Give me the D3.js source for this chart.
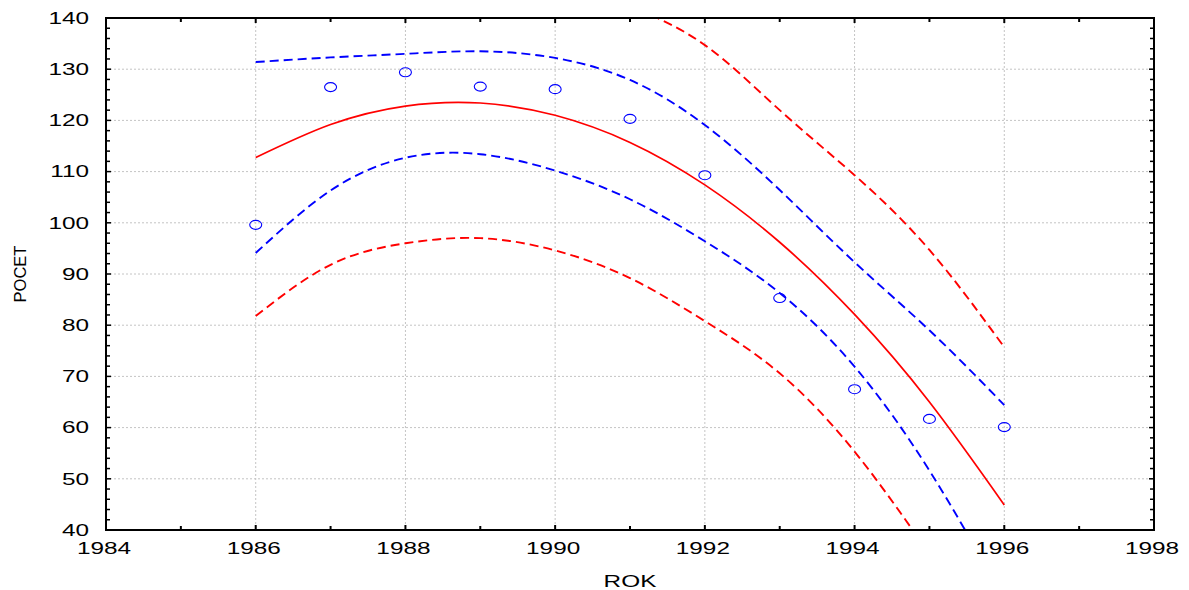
<!DOCTYPE html>
<html>
<head>
<meta charset="utf-8">
<script src="https://cdn.jsdelivr.net/npm/d3@7"></script>
<style>
  body { margin: 0; background: #fff; }
  text { font-family: "Liberation Sans", Arial, sans-serif; fill: #000; }
</style>
</head>
<body>
<svg id="chart" width="1189" height="590"></svg>
<script>
// observed values
const years = [1986, 1987, 1988, 1989, 1990, 1991, 1992, 1993, 1994, 1995, 1996];
const pocet = [99.6, 126.5, 129.4, 126.6, 126.1, 120.3, 109.3, 85.3, 67.5, 61.7, 60.1];

// fitted curve and bands, read at each year
const fit = [112.75, 119.2, 122.8, 123.4, 121.0, 115.7, 107.4, 96.2, 82.1, 65.0, 44.9];
const confUpper = [131.4, 132.3, 133.0, 133.5, 132.2, 127.9, 119.1, 106.4, 92.3, 79.0, 64.4];
const confLower = [94.1, 106.3, 112.7, 113.4, 110.2, 104.6, 96.4, 86.3, 71.9, 51.6, 26.5];
const predUpper = [143.7, 146.8, 149.6, 149.8, 147.4, 142.3, 134.7, 122.0, 109.3, 94.7, 75.7];
const predLower = [81.8, 91.8, 96.0, 97.0, 94.6, 89.2, 80.8, 70.6, 55.3, 35.3, 14.1];

const xTicks = [1984, 1986, 1988, 1990, 1992, 1994, 1996, 1998];
const yTicks = [40, 50, 60, 70, 80, 90, 100, 110, 120, 130, 140];

const svg = d3.select('#chart');

// plot box
const boxLeft = 106, boxRight = 1154, boxTop = 18, boxBottom = 530;
// the original picture is stretched sideways, so is its horizontal text
const stretch = 1.45;

const x = d3.scaleLinear().domain([1984, 1998]).range([boxLeft, boxRight]);
const y = d3.scaleLinear().domain([40, 140]).range([boxBottom, boxTop]);

// grid
const grid = svg.append('g')
  .attr('stroke', '#c4c4c4')
  .attr('stroke-width', 1)
  .attr('stroke-dasharray', '2,2');

grid.selectAll('.vg')
  .data(xTicks.slice(1, -1))
  .enter().append('line')
  .attr('x1', d => x(d)).attr('x2', d => x(d))
  .attr('y1', boxTop).attr('y2', boxBottom);

grid.selectAll('.hg')
  .data(yTicks.slice(1, -1))
  .enter().append('line')
  .attr('x1', boxLeft).attr('x2', boxRight)
  .attr('y1', d => y(d)).attr('y2', d => y(d));

// clip for the curves
svg.append('clipPath').attr('id', 'clip')
  .append('rect')
  .attr('x', boxLeft).attr('y', boxTop)
  .attr('width', boxRight - boxLeft).attr('height', boxBottom - boxTop);

const plot = svg.append('g').attr('clip-path', 'url(#clip)');

const line = d3.line()
  .x((d, i) => x(years[i]))
  .y(d => y(d))
  .curve(d3.curveNatural);

const series = [
  { values: predUpper, color: '#ff0000', dash: '9,5' },
  { values: predLower, color: '#ff0000', dash: '9,5' },
  { values: confUpper, color: '#0000ff', dash: '9,5' },
  { values: confLower, color: '#0000ff', dash: '9,5' },
  { values: fit, color: '#ff0000', dash: null }
];

series.forEach(s => {
  plot.append('path')
    .attr('d', line(s.values))
    .attr('fill', 'none')
    .attr('stroke', s.color)
    .attr('stroke-width', s.dash ? 1.9 : 1.7)
    .attr('stroke-dasharray', s.dash);
});

// points
plot.selectAll('.pt')
  .data(pocet)
  .enter().append('ellipse')
  .attr('cx', (d, i) => x(years[i]))
  .attr('cy', d => y(d))
  .attr('rx', 6)
  .attr('ry', 4.5)
  .attr('fill', 'none')
  .attr('stroke', '#0000ff')
  .attr('stroke-width', 1.1);

// axes: inward ticks on all four sides
const axes = svg.append('g').attr('stroke', '#000');

const xMinor = d3.range(1985, 1998, 1);
const yMinor = d3.range(42, 140, 2);

axes.selectAll('.xt')
  .data(xMinor)
  .enter().append('g')
  .each(function (d) {
    const len = d % 2 === 0 ? 5 : 4;
    d3.select(this).append('line')
      .attr('x1', x(d)).attr('x2', x(d))
      .attr('y1', boxBottom).attr('y2', boxBottom - len)
      .attr('stroke-width', 2);
    d3.select(this).append('line')
      .attr('x1', x(d)).attr('x2', x(d))
      .attr('y1', boxTop).attr('y2', boxTop + len)
      .attr('stroke-width', 2);
  });

axes.selectAll('.yt')
  .data(yMinor)
  .enter().append('g')
  .each(function (d) {
    const len = d % 10 === 0 ? 5 : 4;
    d3.select(this).append('line')
      .attr('x1', boxLeft).attr('x2', boxLeft + len)
      .attr('y1', y(d)).attr('y2', y(d))
      .attr('stroke-width', 1.5);
    d3.select(this).append('line')
      .attr('x1', boxRight).attr('x2', boxRight - len)
      .attr('y1', y(d)).attr('y2', y(d))
      .attr('stroke-width', 1.5);
  });

axes.append('rect')
  .attr('x', boxLeft).attr('y', boxTop)
  .attr('width', boxRight - boxLeft).attr('height', boxBottom - boxTop)
  .attr('fill', 'none')
  .attr('stroke-width', 2);

// tick labels
svg.selectAll('.xl')
  .data(xTicks)
  .enter().append('text')
  .attr('transform', d => `translate(${x(d) - 2}, 554) scale(${stretch}, 1)`)
  .attr('text-anchor', 'middle')
  .style('font-size', '16.8px')
  .text(d => d);

svg.selectAll('.yl')
  .data(yTicks)
  .enter().append('text')
  .attr('transform', d => `translate(89, ${y(d) + 5.8}) scale(${stretch}, 1)`)
  .attr('text-anchor', 'end')
  .style('font-size', '16.8px')
  .text(d => d);

// axis titles
svg.append('text')
  .attr('transform', `translate(${(boxLeft + boxRight) / 2}, 587) scale(${stretch}, 1)`)
  .attr('text-anchor', 'middle')
  .style('font-size', '16.8px')
  .text('ROK');

svg.append('text')
  .attr('transform', `translate(25.5, 274) rotate(-90)`)
  .attr('text-anchor', 'middle')
  .style('font-size', '16.5px')
  .text('POCET');
</script>
</body>
</html>
